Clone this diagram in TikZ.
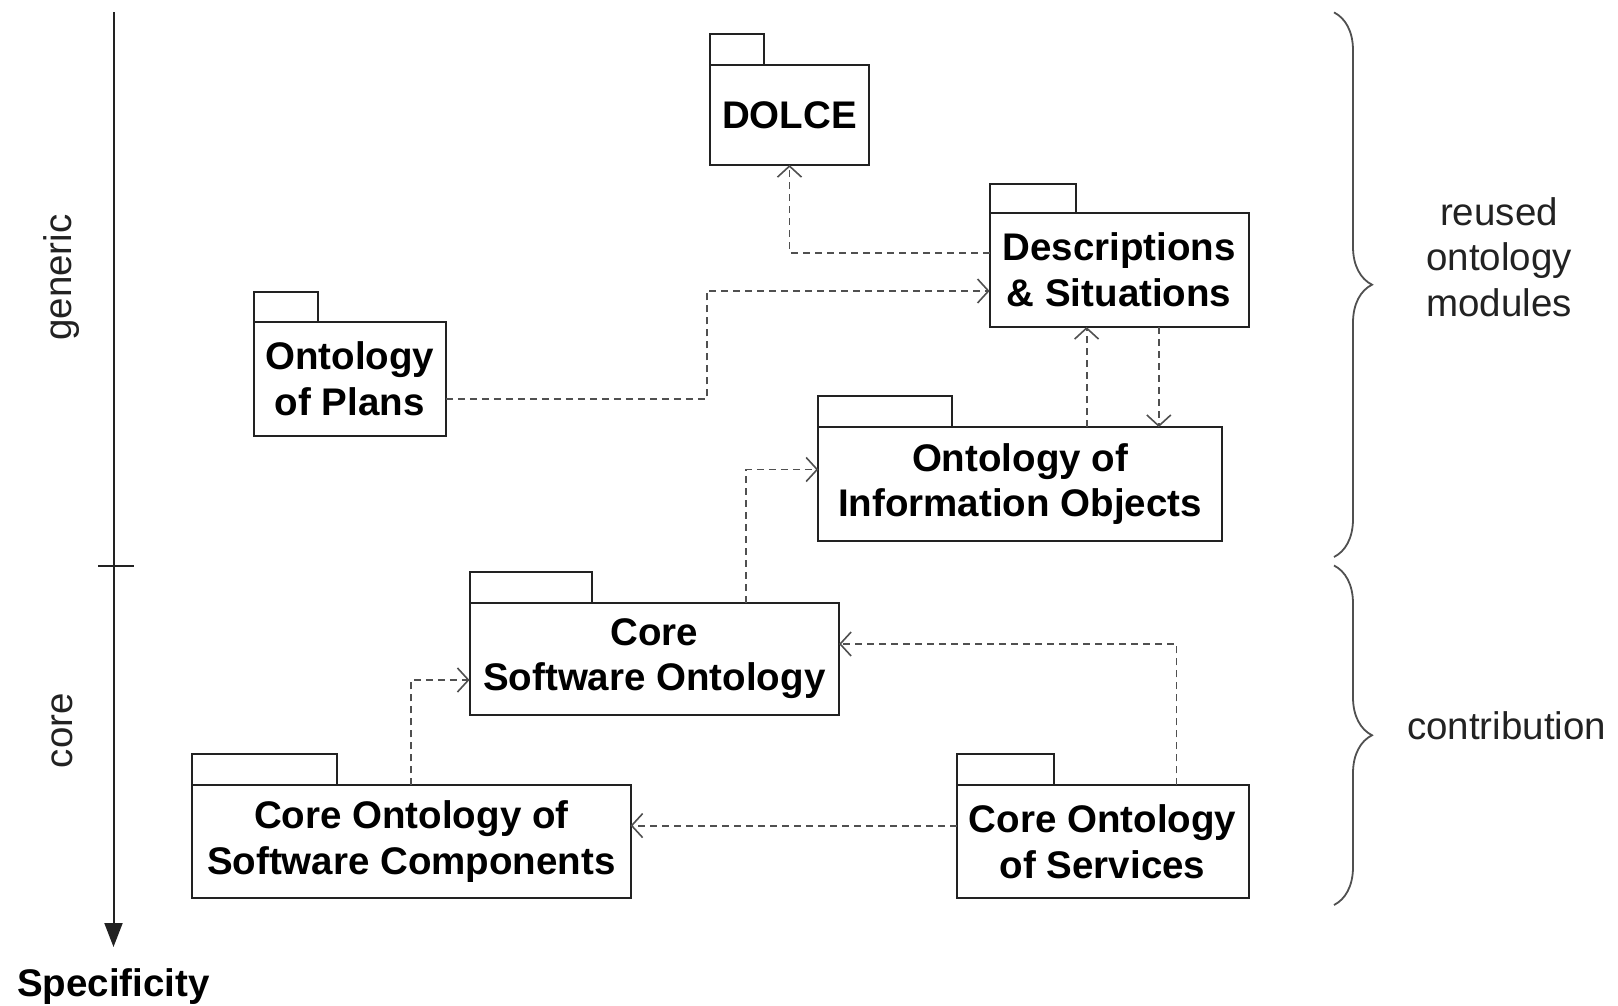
\documentclass[tikz,border=0pt]{standalone}
\usepackage{fontspec}
\setmainfont{Liberation Sans}
\usetikzlibrary{arrows.meta,decorations.pathreplacing}

\definecolor{inkdark}{HTML}{222222}
\definecolor{inkgrey}{HTML}{505050}

\tikzset{
  bigtext/.style={font=\fontsize{38.5}{45.5}\selectfont},
  pkg/.style={draw=inkdark, line width=2pt, fill=white, inner sep=0pt, outer sep=0pt,
    align=center, text=black, font=\fontsize{38.5}{45.5}\selectfont\bfseries},
  pkgtab/.style={draw=inkdark, line width=2pt, inner sep=0pt, outer sep=0pt, anchor=south west},
  dep/.style={draw=inkgrey, line width=1.8pt, dash pattern=on 7pt off 5pt,
    -{Straight Barb[length=11pt,width=24pt,line width=1.6pt]}},
  axisline/.style={draw=inkdark, line width=2pt, -{Triangle[length=24pt,width=18pt]}},
  bracket/.style={draw=inkgrey, line width=1.8pt, decorate,
    decoration={brace, amplitude=38pt}},
  sidelabel/.style={text=inkdark, align=center, bigtext},
}

\begin{document}
\begin{tikzpicture}[x=1pt, y=-1pt]
  \useasboundingbox (0,0) rectangle (1618,1006);

  % specificity axis
  \coordinate (axtop) at (113.5,12.4);
  \coordinate (axend) at (113.5,947);
  \coordinate (tickl) at (98,565.5);
  \coordinate (tickr) at (134,565.5);
  \draw[axisline] (axtop) -- (axend);
  \draw[draw=inkdark, line width=2pt] (tickl) -- (tickr);
  \node[sidelabel, rotate=90] (generic) at (62,277.6) {generic};
  \node[sidelabel, rotate=90] (core) at (62,730.6) {core};
  \node[font=\fontsize{38.5}{45.5}\selectfont\bfseries] (spec) at (113.5,987) {Specificity};

  % packages
  \node[pkg, minimum width=159pt, minimum height=100pt] (dolce) at (789.5,115) {DOLCE};
  \node[pkgtab, minimum width=53.6pt, minimum height=31pt] (dolcetab) at (dolce.north west) {};

  \node[pkg, minimum width=259pt, minimum height=114.4pt] (ds) at (1119.1,269.8) {Descriptions\\\& Situations};
  \node[pkgtab, minimum width=86.4pt, minimum height=29pt] (dstab) at (ds.north west) {};

  \node[pkg, minimum width=192pt, minimum height=113.5pt] (plans) at (349.8,378.75) {Ontology\\of Plans};
  \node[pkgtab, minimum width=64pt, minimum height=30pt] (planstab) at (plans.north west) {};

  \node[pkg, minimum width=403.5pt, minimum height=113.7pt] (oio) at (1020,483.9) {Ontology of\\Information Objects};
  \node[pkgtab, minimum width=134pt, minimum height=31pt] (oiotab) at (oio.north west) {};

  \node[pkg, minimum width=369.5pt, minimum height=112.4pt] (cso) at (654.3,658.8) {Core\\Software Ontology};
  \node[pkgtab, minimum width=122.8pt, minimum height=31pt] (csotab) at (cso.north west) {};

  \node[pkg, minimum width=438.5pt, minimum height=112.5pt] (cosc) at (411.3,841.6) {Core Ontology of\\Software Components};
  \node[pkgtab, minimum width=145.4pt, minimum height=31pt] (cosctab) at (cosc.north west) {};

  \node[pkg, minimum width=292pt, minimum height=112.5pt] (cos) at (1102.6,841.6) {Core Ontology\\of Services};
  \node[pkgtab, minimum width=97pt, minimum height=31pt] (costab) at (cos.north west) {};

  % dependencies
  \draw[dep] ([yshift=17pt]ds.west) -| (dolce.south);
  \draw[dep] ([yshift=-20.6pt]plans.east) -- ++(261.1,0) |- ([yshift=-21.2pt]ds.west);
  \draw[dep] ([xshift=66.6pt]oio.north) -- ([xshift=66.6pt]oio.north |- ds.south);
  \draw[dep] ([xshift=39.7pt]ds.south) -- ([xshift=39.7pt]ds.south |- oio.north);
  \draw[dep] ([xshift=91.7pt]cso.north) |- ([yshift=14.4pt]oio.west);
  \draw[dep] (cosc.north) |- ([yshift=-21.2pt]cso.west);
  \draw[dep] ([xshift=73.8pt]cos.north) |- ([yshift=14.8pt]cso.east);
  \draw[dep] ([yshift=16pt]cos.west) -- ([yshift=16pt]cos.west -| cosc.east);

  % braces and their labels
  \coordinate (b1top) at (1334,12.4);
  \coordinate (b1bot) at (1334,557);
  \coordinate (b2top) at (1334,565.5);
  \coordinate (b2bot) at (1334,905);
  \draw[bracket] (b1top) -- (b1bot);
  \draw[bracket] (b2top) -- (b2bot);
  \node[sidelabel] (reused) at (1499,257) {reused\\ontology\\modules};
  \node[sidelabel] (contrib) at (1506.6,725.4) {contribution};
\end{tikzpicture}
\end{document}
